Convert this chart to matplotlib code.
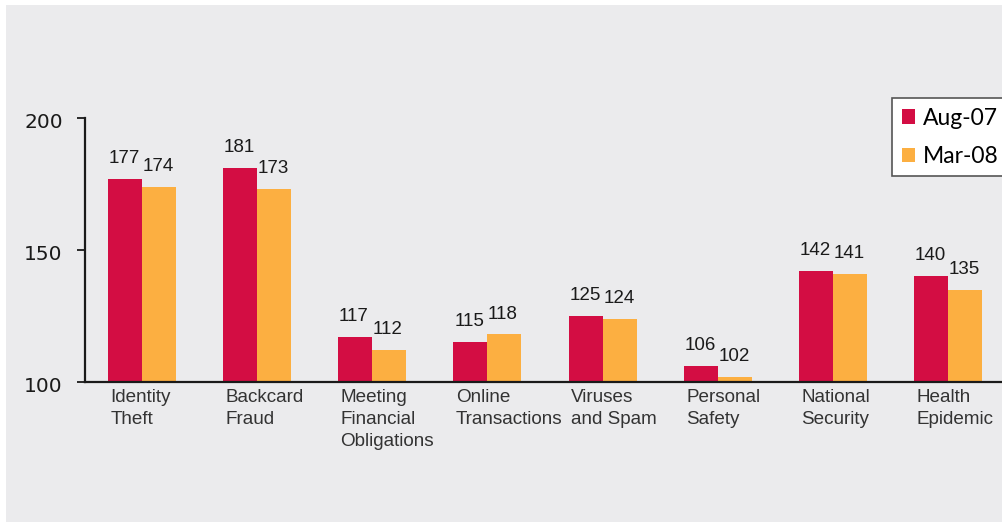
import numpy as np
import matplotlib
matplotlib.use('Agg')
import matplotlib.pyplot as plt
import matplotlib.transforms as mtransforms
from matplotlib.patches import Rectangle, Patch

plt.rcParams['font.family'] = ['Liberation Sans', 'DejaVu Sans']

# data
categories = ['Identity\nTheft', 'Backcard\nFraud', 'Meeting\nFinancial\nObligations',
              'Online\nTransactions', 'Viruses\nand Spam', 'Personal\nSafety',
              'National\nSecurity', 'Health\nEpidemic']
aug07 = [177, 181, 117, 115, 125, 106, 142, 140]
mar08 = [174, 173, 112, 118, 124, 102, 141, 135]
series_names = ['Aug-07', 'Mar-08']
yticks = [100, 150, 200]

red = '#d30d43'
orange = '#fcaf41'
bg = '#ebebed'

W, H = 1002, 522
fig = plt.figure(figsize=(W / 100, H / 100), dpi=100, facecolor='white')
fig.patches.append(Rectangle((6 / W, 0), 1, 1 - 5 / H, transform=fig.transFigure,
                             facecolor=bg, edgecolor='none', zorder=-10))

ax = fig.add_axes([85 / W, (H - 382) / H, (W - 85) / W, (382 - 118) / H])
ax.set_facecolor('none')

x = np.arange(len(categories))
w = 0.295
ax.bar(x - w / 2, aug07, w, color=red, label=series_names[0], zorder=2)
ax.bar(x + w / 2, mar08, w, color=orange, label=series_names[1], zorder=2)

# value labels, left aligned on each bar
for i in range(len(x)):
    ax.annotate(str(aug07[i]), (x[i] - w, aug07[i]), xytext=(0.5, 11.5),
                textcoords='offset points', ha='left', va='baseline',
                fontsize=13.5, color='#1a1a1a')
    ax.annotate(str(mar08[i]), (x[i], mar08[i]), xytext=(0.5, 11.5),
                textcoords='offset points', ha='left', va='baseline',
                fontsize=13.5, color='#1a1a1a')

ax.set_xlim(-0.495, 7.469)
ax.set_ylim(100, 200)
ax.set_yticks(yticks)
ax.set_yticklabels([str(v) for v in yticks], fontsize=14.5, family=['DejaVu Sans'],
                   color='#1a1a1a')
ax.tick_params(axis='y', direction='out', length=6, width=1.3, color='#1a1a1a', pad=10)
shift = mtransforms.ScaledTranslation(0, -3 / 100, fig.dpi_scale_trans)
for lab in ax.get_yticklabels():
    lab.set_transform(lab.get_transform() + shift)

ax.set_xticks(x - w + 0.02)
ax.set_xticklabels(categories, ha='left', multialignment='left', fontsize=13.6,
                   color='#333333', linespacing=1.38)
ax.tick_params(axis='x', length=0, pad=5)

for s in ['top', 'right']:
    ax.spines[s].set_visible(False)
for s in ['left', 'bottom']:
    ax.spines[s].set_linewidth(1.6)
    ax.spines[s].set_color('#1a1a1a')

handles = [Patch(facecolor=red, edgecolor='none'), Patch(facecolor=orange, edgecolor='none')]
leg = fig.legend(handles, series_names, loc='upper left',
                 bbox_to_anchor=(892 / W, 1 - 98 / H), bbox_transform=fig.transFigure,
                 borderaxespad=0, frameon=True, fancybox=False, framealpha=1,
                 edgecolor='#555555', facecolor='white',
                 prop={'family': ['Lato', 'DejaVu Sans'], 'size': 16.5},
                 handlelength=0.58, handleheight=0.58, handletextpad=0.35,
                 labelspacing=0.75, borderpad=0.42)
leg.get_frame().set_linewidth(1.2)

fig.savefig('out.png', dpi=100, facecolor=fig.get_facecolor())
